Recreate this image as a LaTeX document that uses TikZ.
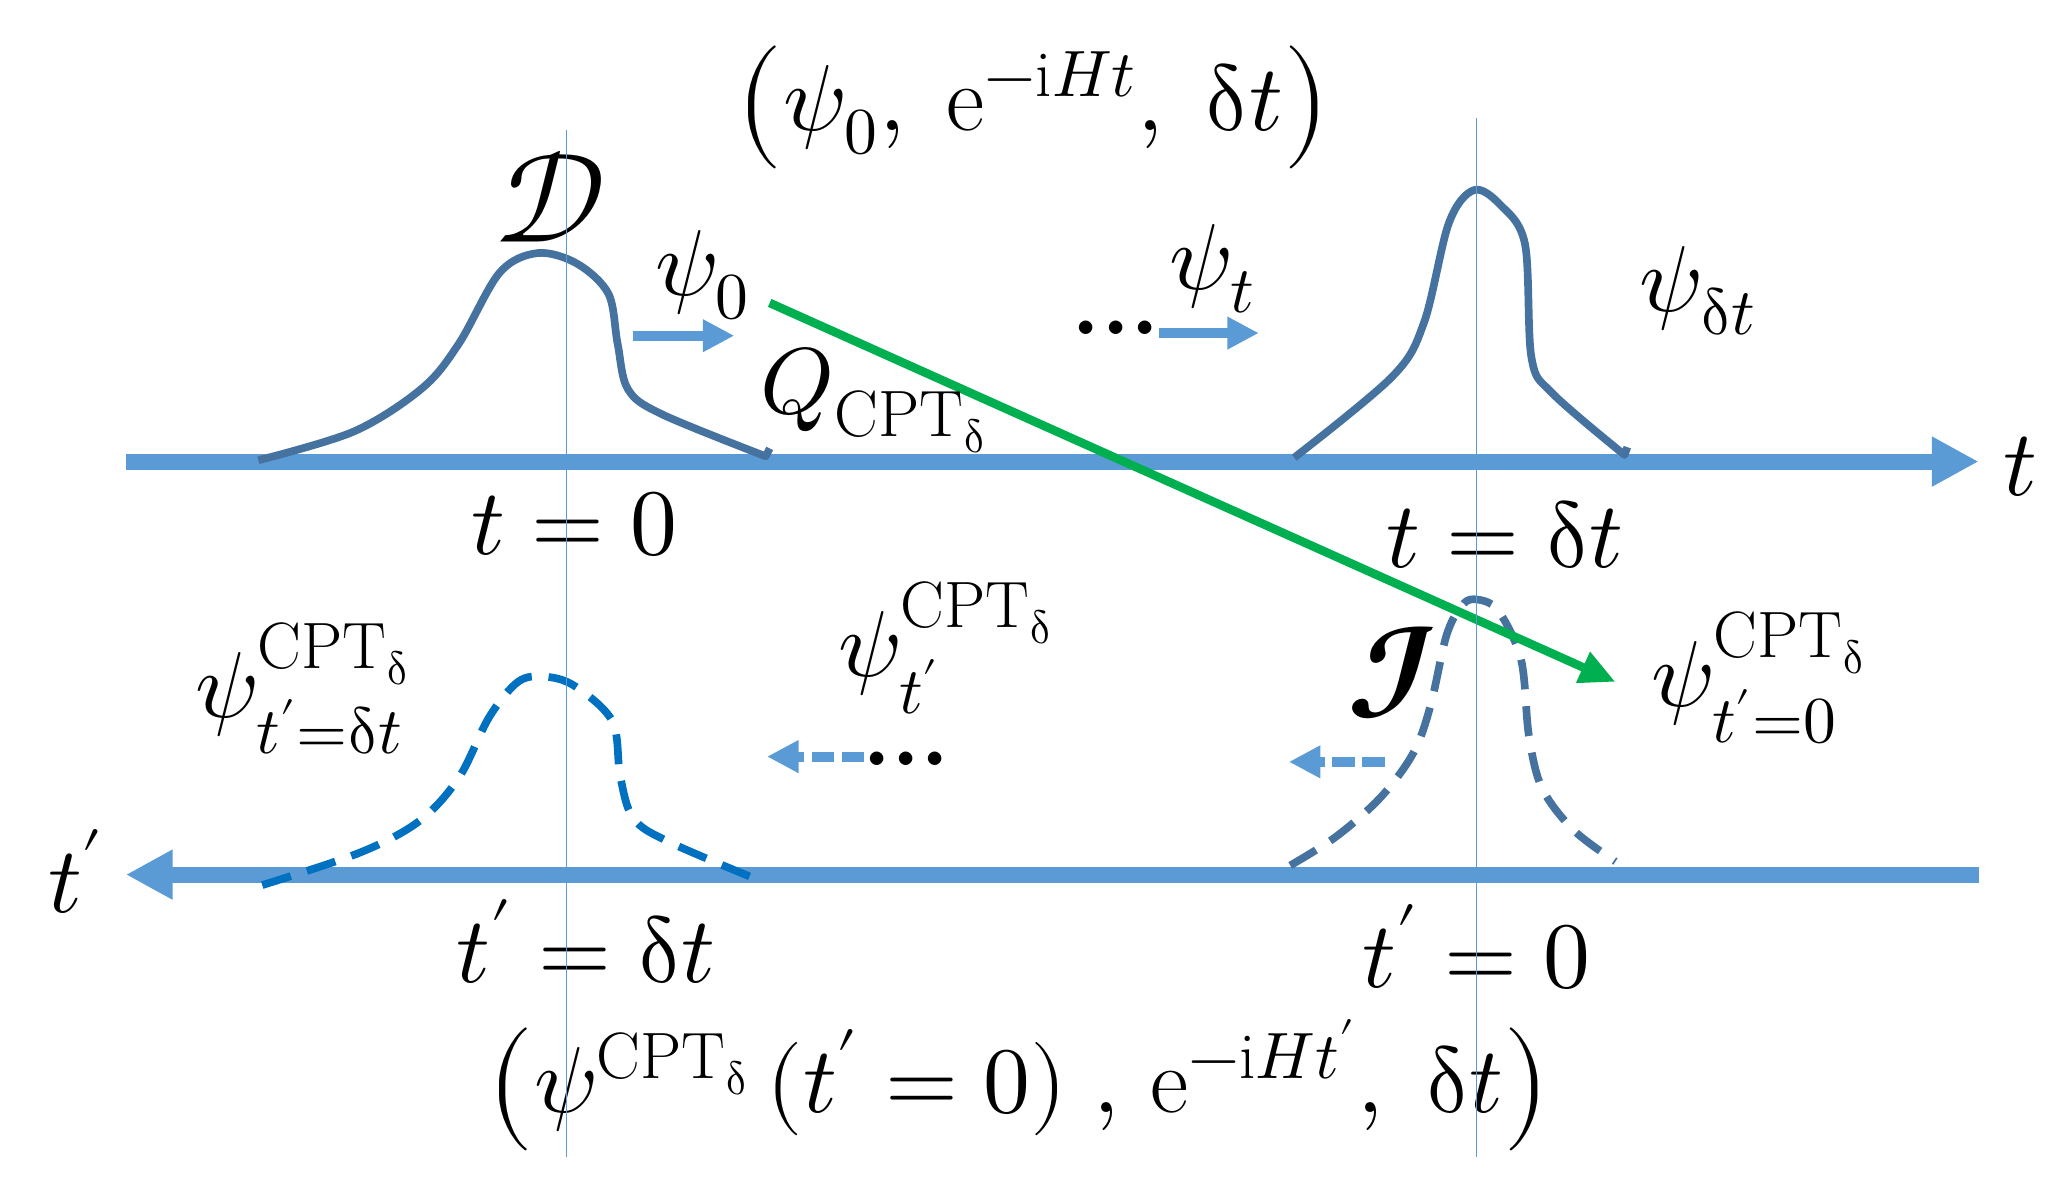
\documentclass[tikz,border=0pt]{standalone}
\usepackage{unicode-math}
\usetikzlibrary{arrows.meta}
\newcommand{\dlt}{\symup{\delta}}
\newcommand{\lpar}{\mathopen{\raisebox{-1.3pt}{\fontsize{30}{36}\selectfont$\bigl($}}}
\newcommand{\rpar}{\mathclose{\raisebox{-1.3pt}{\fontsize{30}{36}\selectfont$\bigr)$}}}
\definecolor{axisblue}{HTML}{5B9BD5}
\definecolor{curveblue}{HTML}{4672A0}
\definecolor{darkdash}{HTML}{0070C0}
\definecolor{qgreen}{HTML}{00B050}
\begin{document}
\begin{tikzpicture}[x=0.35pt,y=-0.35pt,
  axis/.style={draw=axisblue,line width=4.3pt,-{Triangle[length=12.5pt,width=12.5pt]}},
  vline/.style={draw=axisblue,line width=0.5pt},
  wave/.style={draw=curveblue,line width=2.05pt,line join=round},
  dwave/.style={wave,dash pattern=on 8pt off 4.5pt},
  sarrow/.style={draw=axisblue,line width=2.7pt,-{Triangle[length=8.4pt,width=8.2pt]}},
  dsarrow/.style={sarrow,dash pattern=on 6pt off 2pt},
  garrow/.style={draw=qgreen,line width=2.3pt,-{Triangle[length=9.5pt,width=8.5pt]}},
  lbl/.style={font=\fontsize{25}{30}\selectfont,inner sep=0pt},
  big/.style={font=\fontsize{34}{40}\selectfont,inner sep=0pt}]
\useasboundingbox (0,0) rectangle (1568,918);

% axes
\coordinate (ta1) at (96,352);
\coordinate (ta2) at (1509,352);
\coordinate (ba1) at (1509,667);
\coordinate (ba2) at (96,667);
\draw[axis] (ta1) -- (ta2);
\draw[axis] (ba1) -- (ba2);

% wave packets
\draw[wave] plot[smooth,tension=0.55] coordinates {(197,351) (270,329) (322,296) (350,262) (381,208) (410,193) (440,201) (464,224) (471,262) (479,297) (505,316) (584,348)} -- (587,342);
\draw[wave] plot[smooth,tension=0.55] coordinates {(987,349) (1062,287) (1086,246) (1105,170) (1124,145) (1144,156) (1163,186) (1168,273) (1184,300) (1239,347)} -- (1241,341);
\draw[dwave,draw=darkdash] plot[smooth,tension=0.55] coordinates {(200,675) (275,650) (320,626) (350,593) (373,547) (395,520) (415,516) (438,523) (467,550) (473,592) (483,624) (510,642) (583,673)};
\draw[dwave] plot[smooth,tension=0.55] coordinates {(984,660) (1019,638) (1053,608) (1078,574) (1091,538) (1103,485) (1114,463) (1124,457) (1142,465) (1160,503) (1166,561) (1176,601) (1200,633) (1232,657)};

% green arrow
\coordinate (g1) at (587,231);
\coordinate (g2) at (1232,520);
\draw[garrow] (g1) -- (g2);

% small arrows
\coordinate (s1a) at (483,256); \coordinate (s1b) at (560,256);
\coordinate (s2a) at (884,254); \coordinate (s2b) at (960,254);
\coordinate (s3a) at (659,577); \coordinate (s3b) at (585,577);
\coordinate (s4a) at (1056,581); \coordinate (s4b) at (983,581);
\draw[sarrow] (s1a) -- (s1b);
\draw[sarrow] (s2a) -- (s2b);
\draw[dsarrow] (s3a) -- (s3b);
\draw[dsarrow] (s4a) -- (s4b);

% labels
\node[lbl] (top) at (788,82) {$\lpar\psi_0,\;\mathrm{e}^{-\mathrm{i}Ht},\;\dlt t\rpar$};
\node[big] (D) at (420,150) {$\mathcal{D}$};
\node[lbl] (p0) at (536,210) {$\psi_0$};
\node[lbl] (Q) at (667,305) {$Q_{\mathrm{CPT}_{\dlt}}$};
\node[lbl,font=\fontsize{25}{30}\bfseries] (dots1) at (851,250) {...};
\node[lbl] (pt) at (925,205) {$\psi_t$};
\node[lbl] (pdt) at (1295,222) {$\psi_{\dlt t}$};
\node[lbl] (taxis) at (1541,356) {$t$};
\node[lbl] (t0) at (438,400) {$t=0$};
\node[lbl] (tdt) at (1148,408) {$t=\dlt t$};
\node[lbl] (pc1) at (232,525) {$\psi^{\mathrm{CPT}_{\dlt}}_{t'=\dlt t}$};
\node[lbl] (pc2) at (722,494) {$\psi^{\mathrm{CPT}_{\dlt}}_{t'}$};
\node[lbl,font=\fontsize{25}{30}\bfseries] (dots2) at (691,579) {...};
\node[big] (I) at (1062,513) {$\symbfcal{I}$};
\node[lbl] (pc3) at (1342,517) {$\psi^{\mathrm{CPT}_{\dlt}}_{t'=0}$};
\node[lbl] (taxis2) at (58,665) {$t'$};
\node[lbl] (tp1) at (447,718) {$t'=\dlt t$};
\node[lbl] (tp0) at (1126,722) {$t'=0$};
\node[lbl] (bot) at (777,830) {$\lpar\psi^{\mathrm{CPT}_{\dlt}}\,(t'=0)\;,\,\mathrm{e}^{-\mathrm{i}Ht'},\;\dlt t\rpar$};

% vertical lines
\coordinate (v1a) at (432,99); \coordinate (v1b) at (432,882);
\coordinate (v2a) at (1126,90); \coordinate (v2b) at (1126,882);
\draw[vline] (v1a) -- (v1b);
\draw[vline] (v2a) -- (v2b);
\end{tikzpicture}
\end{document}
